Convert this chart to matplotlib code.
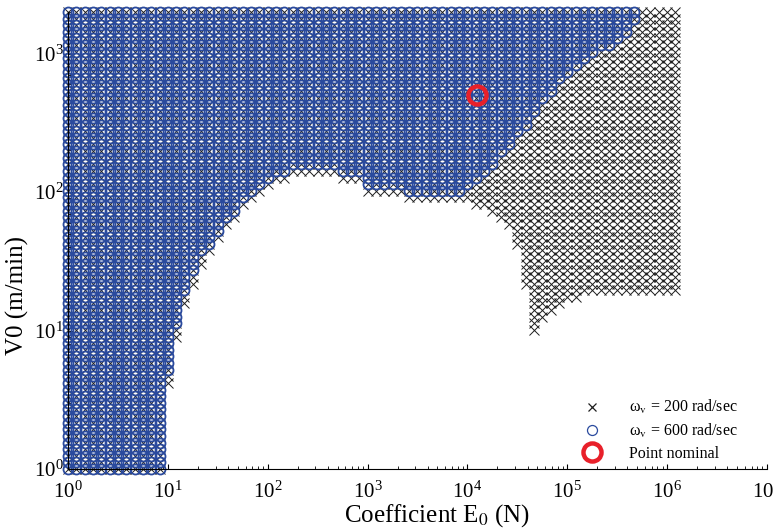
import numpy as np
import matplotlib
matplotlib.use('Agg')
import matplotlib.pyplot as plt
from matplotlib.lines import Line2D

plt.rcParams['font.family'] = ['Liberation Serif', 'DejaVu Serif']
plt.rcParams['mathtext.fontset'] = 'stix'

# balayage : 12 valeurs par decade pour E0, 70 valeurs pour V0 entre 1 et 2000
E0_grid = np.logspace(0, 73 / 12, 74)
V0_grid = np.logspace(0, np.log10(2000), 70)

# borne basse de V0 stable, colonne par colonne
V0_min_600 = [1, 1, 1, 1, 1, 1, 1, 1, 1, 1, 1, 1,
              5, 11, 19, 27, 36, 44, 54, 64, 74, 88, 100, 110, 124, 135, 145,
              152, 152, 152, 152, 152, 152, 137, 137, 137,
              116, 116, 116, 116, 116,
              104, 104, 104, 104, 104, 104, 104,
              111, 126, 142, 160, 189, 228, 264, 316, 380, 457, 548, 650,
              730, 860, 950, 1030, 1100, 1150, 1240, 1390, 1750]

V0_min_200 = [1, 1, 1, 1, 1, 1, 1, 1, 1, 1, 1, 1,
              4, 9, 16, 23, 31, 39, 48, 57, 66, 78, 90, 100, 112, 122, 132,
              140, 140, 140, 140, 140, 140, 125, 125, 125,
              105, 105, 105, 105, 105,
              95, 95, 95, 95, 95, 95, 94,
              89, 86, 83, 77, 66, 60, 42, 21, 10, 13, 13.4, 15, 17, 18.3,
              20, 20, 20, 20, 20, 18.6, 18.6, 18.6, 18.6, 18.6, 18.6, 18.6]

E0_nominal = 1.25e4
V0_nominal = 500


def region(v_min):
    half = 0.5 * np.log10(V0_grid[1] / V0_grid[0])
    xs, ys = [], []
    for k, vm in enumerate(v_min):
        ok = np.log10(V0_grid) >= np.log10(vm) - half
        xs.extend([E0_grid[k]] * ok.sum())
        ys.extend(V0_grid[ok])
    return np.array(xs), np.array(ys)


x200, y200 = region(V0_min_200)
x600, y600 = region(V0_min_600)

blue = '#2a4a9e'
black = '#1e1e1e'
red = '#e8202a'

fig = plt.figure(figsize=(7.75, 5.31), dpi=100)
ax = fig.add_axes([68 / 775, 1 - 469 / 531, 699 / 775, 457 / 531])

ax.plot(x200, y200, ls='', marker='x', ms=6.5, mew=0.7, color=black, clip_on=False)
ax.plot(x600, y600, ls='', marker='o', ms=7.2, mew=1.3, mfc='none', mec=blue, clip_on=False)
ax.plot([E0_nominal], [V0_nominal], ls='', marker='o', ms=13, mew=3.2, mfc='none', mec=red,
        clip_on=False)

ax.set_xscale('log')
ax.set_yscale('log')
ax.set_xlim(1, 1e7)
ax.set_ylim(1, 2000)
ax.spines['top'].set_visible(False)
ax.spines['right'].set_visible(False)
ax.tick_params(which='both', direction='in', labelsize=15)
ax.tick_params(axis='x', pad=9)
ax.tick_params(axis='y', pad=3)
ax.set_xticks([10.0 ** i for i in range(8)])
ax.set_yticks([10.0 ** i for i in range(4)])

ax.set_xlabel('Coefficient E$_\\mathrm{0}$ (N)', fontsize=18)
ax.set_ylabel('V0 (m/min)', fontsize=18)
ax.xaxis.set_label_coords(0.528, -0.072)
ax.yaxis.set_label_coords(-0.056, 0.38)

handles = [
    Line2D([], [], ls='', marker='x', ms=6, mew=0.9, color=black),
    Line2D([], [], ls='', marker='o', ms=7.2, mew=0.9, mfc='none', mec=blue),
    Line2D([], [], ls='', marker='o', ms=13, mew=3.2, mfc='none', mec=red),
]
labels = ['ω$_\\mathrm{v}$ = 200 rad/sec', 'ω$_\\mathrm{v}$ = 600 rad/sec', 'Point nominal']
ax.legend(handles, labels, loc='upper left', bbox_to_anchor=(570 / 775, 1 - 392 / 531),
          bbox_transform=fig.transFigure, frameon=False, fontsize=11.5,
          handletextpad=1.3, labelspacing=0.35, borderaxespad=0)

fig.savefig('out.png', dpi=100)
